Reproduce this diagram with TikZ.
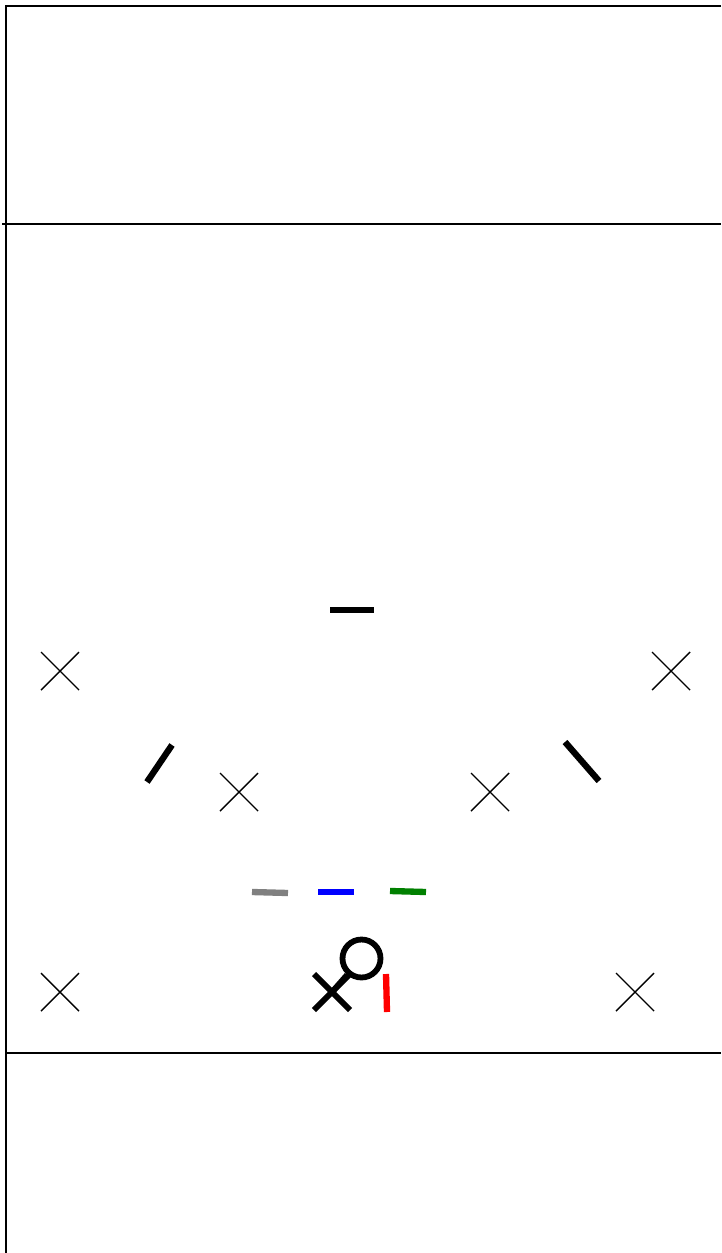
\documentclass[tikz,border=0pt]{standalone}
\usepackage{tikz}

\begin{document}
\begin{tikzpicture}[x=0.02cm, y=-0.02cm,
    court/.style={line width=1.1pt, black},
    spot/.style={line width=0.8pt, black},
    bar/.style={line width=3.6pt},
    player/.style={line width=3.3pt, black}]
  \useasboundingbox (0,0) rectangle (721,1253);

  % Court lines
  \draw[court] (721,6) -- (6,6) -- (6,1253);
  \draw[court] (2,224) -- (721,224);
  \draw[court] (6,1053) -- (721,1053);

  % Cones
  \foreach \cx/\cy in {60/671, 671/671, 239/792, 490/792, 60/992, 635/992}
    \draw[spot] (\cx-19,\cy-19) -- (\cx+19,\cy+19)
                (\cx-19,\cy+19) -- (\cx+19,\cy-19);

  % Black markers
  \draw[bar] (330,610) -- (374,610);
  \draw[bar] (147,782) -- (172,745);
  \draw[bar] (565,742) -- (599,781);

  % Coloured markers
  \draw[bar, gray] (252,892) -- (288,893);
  \draw[bar, blue] (318,892) -- (354,892);
  \draw[bar, green!50!black] (390,891) -- (426,892);
  \draw[bar, red] (386,974) -- (387,1012);

  % Player with ball
  \coordinate (p) at (332,992);
  \node[circle, draw, player, inner sep=0pt, minimum size=0.76cm] (ball) at (361.5,958.5) {};
  \draw[player] (p) ++(-18,-18) -- ++(36,36);
  \draw[player] (p) ++(-18,18) -- ++(36,-36);
  \draw[player] (p) -- (ball);
\end{tikzpicture}
\end{document}
